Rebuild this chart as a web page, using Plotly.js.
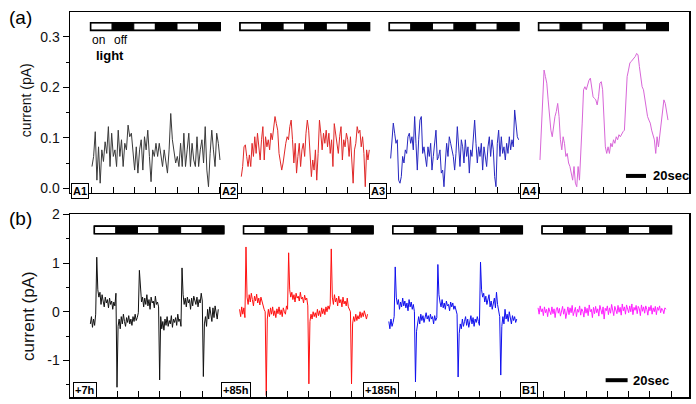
<!DOCTYPE html>
<html>
<head>
<meta charset="utf-8">
<script src="https://cdn.plot.ly/plotly-3.0.1.min.js"></script>
<style>html,body{margin:0;padding:0;background:#fff;}#chart{width:696px;height:404px;}</style>
</head>
<body>
<div id="chart"></div>
<script>
// ---------- DATA ----------
// Panel (a): photocurrent traces (pA), each spanning 120 s
const labelsA = ["A1", "A2", "A3", "A4"];
const startsA = [20, 160, 300, 440];
const a1 = [0.043,0.063,0.112,0.016,0.082,0.010,0.076,0.053,0.092,0.069,0.122,0.043,0.109,0.063,0.076,0.043,0.115,0.063,0.096,0.043,0.089,0.076,0.125,0.102,0.109,0.069,0.036,0.082,0.030,0.076,0.096,0.036,0.102,0.076,0.115,0.063,0.013,0.076,0.063,0.089,0.063,0.089,0.069,0.043,0.076,0.050,0.030,0.076,0.148,0.096,0.069,0.050,0.063,0.043,0.089,0.043,0.109,0.043,0.076,0.109,0.043,0.089,0.056,0.043,0.102,0.043,0.076,0.096,0.050,0.122,0.036,0.003,0.069,0.115,0.076,0.043,0.109,0.089,0.056];
const a2 = [0.023,0.043,0.082,0.086,0.063,0.043,0.066,0.043,0.089,0.063,0.102,0.069,0.109,0.082,0.056,0.096,0.122,0.056,0.102,0.082,0.096,0.076,0.109,0.096,0.122,0.142,0.128,0.115,0.069,0.056,0.036,0.050,0.076,0.089,0.102,0.096,0.122,0.135,0.096,0.050,0.089,0.030,0.063,0.089,0.043,0.076,0.089,0.063,0.109,0.135,0.115,0.063,0.023,0.056,0.036,0.076,0.016,0.069,0.135,0.109,0.076,0.109,0.089,0.115,0.082,0.109,0.069,0.096,0.043,0.128,0.109,0.096,0.069,0.102,0.122,0.056,0.096,0.082,0.109,0.096,0.063,0.102,0.050,0.010,0.076,0.089,0.122,0.109,0.115,0.082,0.102,0.069,0.003,0.076,0.056,0.076];
const a3 = [0.059,0.102,0.129,0.109,0.089,0.096,0.016,0.010,0.023,0.063,0.050,0.076,0.069,0.102,0.109,0.089,0.102,0.076,0.142,0.089,0.036,0.096,0.135,0.142,0.069,0.082,0.063,0.043,0.082,0.063,0.089,0.036,0.063,0.096,0.115,0.056,0.063,0.076,0.030,0.036,0.003,0.050,0.089,0.063,0.102,0.089,0.076,0.063,0.036,0.069,0.122,0.089,0.043,0.096,0.082,0.050,0.096,0.063,0.082,0.030,0.076,0.063,0.102,0.135,0.089,0.050,0.082,0.063,0.089,0.036,0.082,0.063,0.043,0.082,0.102,0.063,0.096,0.076,0.023,0.003,0.089,0.115,0.063,0.102,0.069,0.082,0.056,0.089,0.069,0.102,0.076,0.096,0.082,0.155,0.129,0.102,0.096];
const a4 = [0.056,0.120,0.190,0.234,0.221,0.208,0.175,0.135,0.115,0.102,0.129,0.142,0.152,0.168,0.142,0.096,0.076,0.102,0.089,0.063,0.069,0.050,0.043,0.030,0.016,0.043,0.010,0.003,0.043,0.016,0.063,0.129,0.195,0.201,0.195,0.208,0.214,0.218,0.195,0.181,0.178,0.175,0.165,0.181,0.208,0.211,0.195,0.142,0.082,0.069,0.082,0.069,0.089,0.082,0.096,0.089,0.102,0.096,0.106,0.102,0.109,0.112,0.115,0.175,0.221,0.234,0.248,0.251,0.254,0.257,0.261,0.267,0.264,0.241,0.221,0.201,0.195,0.175,0.162,0.142,0.135,0.129,0.115,0.102,0.096,0.069,0.102,0.082,0.109,0.135,0.155,0.175,0.168,0.152,0.135];

// Panel (b): traces after +7h, +85h, +185h, and B1, each spanning 120 s
const labelsB = ["+7h", "+85h", "+185h", "B1"];
const startsB = [15, 155, 295, 435];
const b1 = [-0.25,-0.10,-0.32,-0.15,-0.28,-0.05,1.12,0.45,0.30,0.40,0.15,0.35,0.22,0.10,0.30,0.18,0.25,0.08,0.28,0.15,0.22,0.05,0.20,0.12,0.38,-1.55,-0.30,-0.15,-0.35,-0.10,-0.25,-0.05,-0.20,-0.30,-0.12,-0.22,-0.08,-0.25,-0.15,-0.28,-0.10,-0.20,-0.05,-0.18,-0.12,-0.02,0.85,0.40,0.20,0.30,0.10,0.28,0.15,0.35,0.12,0.25,0.05,0.30,0.18,0.22,0.08,0.32,0.15,0.20,0.10,-1.40,-0.10,-0.35,-0.20,-0.38,-0.15,-0.28,-0.10,-0.30,-0.18,-0.25,-0.08,-0.32,-0.15,-0.22,-0.12,-0.28,-0.05,-0.20,-0.15,-0.30,0.90,0.35,0.15,0.28,0.10,0.30,0.18,0.25,0.05,0.28,0.12,0.32,0.20,0.15,0.30,0.10,0.25,0.18,0.38,0.22,-1.33,-0.25,-0.10,-0.30,0.05,-0.15,0.10,-0.08,-0.20,0.08,-0.12,0.12,-0.05,-0.15,0.05];
const b2 = [0.05,-0.10,0.10,-0.05,0.08,-0.12,1.33,0.30,0.15,0.35,0.20,0.38,0.25,0.12,0.32,0.22,0.36,0.18,0.28,0.14,0.30,0.20,0.10,0.05,0.00,-1.72,-0.15,0.05,-0.10,0.08,-0.05,0.10,-0.08,0.02,-0.12,0.06,-0.04,0.10,-0.06,0.04,-0.10,0.08,0.00,-0.05,0.12,0.05,1.21,0.45,0.30,0.40,0.25,0.35,0.20,0.38,0.28,0.32,0.22,0.40,0.26,0.30,0.18,0.34,0.24,0.28,0.12,-1.48,-0.20,-0.05,-0.15,0.00,-0.10,-0.02,-0.12,0.05,-0.08,0.02,-0.10,0.08,-0.04,0.06,-0.06,0.10,0.00,0.12,0.05,0.15,1.29,0.30,0.15,0.35,0.20,0.28,0.12,0.32,0.18,0.25,0.10,0.30,0.16,0.22,0.12,0.28,0.10,0.05,0.00,-1.48,-0.25,-0.10,-0.20,-0.05,-0.18,-0.08,-0.15,0.00,-0.12,-0.02,-0.10,0.02,-0.08,-0.15,-0.05];
const b3 = [-0.20,-0.35,-0.15,-0.30,-0.22,-0.10,0.92,0.30,0.15,0.25,0.05,0.20,0.10,0.28,0.12,0.22,0.08,0.18,0.02,0.25,0.10,0.20,0.05,0.15,0.00,-1.44,-0.40,-0.20,-0.10,-0.25,-0.05,-0.18,-0.08,-0.22,-0.12,-0.02,-0.15,-0.08,-0.20,-0.05,-0.15,-0.10,-0.25,-0.08,-0.18,-0.12,0.97,0.35,0.20,0.10,0.25,0.08,0.18,0.05,0.22,0.12,0.15,0.02,0.20,0.10,0.18,0.05,0.12,0.00,-0.05,-1.34,-0.45,-0.25,-0.35,-0.15,-0.30,-0.20,-0.10,-0.28,-0.15,-0.32,-0.18,-0.08,-0.25,-0.12,-0.30,-0.15,-0.22,-0.10,-0.20,-0.28,1.02,0.45,0.30,0.38,0.20,0.32,0.15,0.25,0.35,0.10,0.22,0.05,0.18,0.28,0.08,0.40,0.15,0.05,-0.10,-1.30,-0.30,-0.10,-0.25,0.05,-0.15,-0.05,-0.20,0.00,-0.12,-0.25,-0.08,-0.18,-0.10,-0.22,-0.15];
const b4 = [0.08,-0.05,0.12,0.00,0.06,-0.08,0.10,-0.02,0.05,-0.10,0.08,0.02,-0.06,0.10,-0.04,0.06,-0.12,0.04,0.09,-0.03,0.07,-0.09,0.03,0.11,-0.05,0.06,-0.14,0.02,0.10,-0.06,0.08,-0.02,0.13,-0.08,0.04,0.09,-0.10,0.05,-0.01,0.12,-0.07,0.06,0.01,-0.11,0.10,-0.03,0.07,-0.08,0.14,0.00,0.05,-0.12,0.09,-0.04,0.11,-0.02,0.06,-0.09,0.13,0.03,-0.05,0.10,-0.15,0.07,0.02,0.12,-0.06,0.08,-0.03,0.15,0.01,-0.08,0.11,0.04,-0.04,0.13,-0.01,0.09,-0.07,0.16,0.02,0.10,-0.05,0.14,0.05,-0.02,0.12,0.00,0.16,-0.06,0.09,0.03,0.13,-0.04,0.11,0.06,-0.08,0.14,0.01,0.10,-0.03,0.12,0.05,-0.07,0.10,0.02,0.13,-0.05,0.08,0.00,0.11,-0.06,0.09,0.03,0.12,-0.02,0.07,0.04,-0.04,0.08,0.05];

const traceDuration = 120;          // seconds per recording
const lightStarts = [18.7, 158.7, 298.7, 438.7];  // start of light on/off sequence (s)
const lightPeriod = 20.25;          // each on/off half-cycle (s)
const yTicksA = [0, 0.1, 0.2, 0.3];
const yTickTextA = ["0.0", "0.1", "0.2", "0.3"];
const yTicksB = [-1, 0, 1, 2];
const yTickTextB = ["-1", "0", "1", "2"];

// ---------- STYLE ----------
const colorsA = ["#3a3a3a", "#e02828", "#2828c0", "#d866d8"];
const colorsB = ["#111111", "#ff1010", "#1010ee", "#ff20ff"];
const FONT = "Liberation Sans, Arial, sans-serif";

function xs(start, n) {
  const out = [];
  for (let i = 0; i < n; i++) out.push(start + i * traceDuration / (n - 1));
  return out;
}

const dataA = [a1, a2, a3, a4];
const dataB = [b1, b2, b3, b4];
const traces = [];
dataA.forEach((v, k) => traces.push({
  x: xs(startsA[k], v.length), y: v, type: "scatter", mode: "lines",
  line: {color: colorsA[k], width: 1}, xaxis: "x", yaxis: "y", hoverinfo: "skip", name: labelsA[k]
}));
dataB.forEach((v, k) => traces.push({
  x: xs(startsB[k], v.length), y: v, type: "scatter", mode: "lines",
  line: {color: colorsB[k], width: 1}, xaxis: "x2", yaxis: "y2", hoverinfo: "skip", name: labelsB[k]
}));

// light bars
const shapes = [];
function addBars(xref, yref, y0, y1) {
  lightStarts.forEach(s => {
    for (let j = 0; j < 6; j++) {
      shapes.push({type: "rect", xref, yref, x0: s + j * lightPeriod, x1: s + (j + 1) * lightPeriod,
        y0, y1, fillcolor: j % 2 ? "#000" : "#fff", line: {color: "#000", width: 1}});
    }
    shapes.push({type: "rect", xref, yref, x0: s, x1: s + 6 * lightPeriod, y0, y1,
      fillcolor: "rgba(0,0,0,0)", line: {color: "#000", width: 1.6}});
  });
}
addBars("x", "y", 0.3127, 0.3277);
addBars("x2", "y2", 1.602, 1.758);
// scale bars (20 s)
shapes.push({type: "line", xref: "x", yref: "y", x0: 520.6, x1: 539.4, y0: 0.0244, y1: 0.0244, line: {color: "#000", width: 4}});
shapes.push({type: "line", xref: "x2", yref: "y2", x0: 498.4, x1: 519, y0: -1.405, y1: -1.405, line: {color: "#000", width: 4}});

const annotations = [];
const boxXA = [0, 140, 280, 421];
const boxXB = [-1.6, 137.5, 270.7, 418];
labelsA.forEach((t, k) => annotations.push({
  text: "<b>" + t + "</b>", xref: "x", yref: "paper", x: boxXA[k], y: 0.535, xanchor: "left", yanchor: "middle",
  showarrow: false, font: {family: FONT, size: 11, color: "#000"}, bgcolor: "#fff",
  bordercolor: "#000", borderwidth: 1, borderpad: 1
}));
labelsB.forEach((t, k) => annotations.push({
  text: "<b>" + t + "</b>", xref: "x2", yref: "paper", x: boxXB[k], y: 0.018, xanchor: "left", yanchor: "middle",
  showarrow: false, font: {family: FONT, size: 11, color: "#000"}, bgcolor: "#fff",
  bordercolor: "#000", borderwidth: 1, borderpad: 1
}));
annotations.push({text: "on", xref: "x", yref: "y", x: 26.5, y: 0.2935, showarrow: false, font: {family: FONT, size: 12, color: "#000"}});
annotations.push({text: "off", xref: "x", yref: "y", x: 47.6, y: 0.2935, showarrow: false, font: {family: FONT, size: 12, color: "#000"}});
annotations.push({text: "<b>light</b>", xref: "x", yref: "y", x: 36.8, y: 0.2638, showarrow: false, font: {family: FONT, size: 13, color: "#000"}});
annotations.push({text: "<b>20sec</b>", xref: "x", yref: "y", x: 544, y: 0.0244, xanchor: "left", showarrow: false, font: {family: FONT, size: 13, color: "#000"}});
annotations.push({text: "<b>20sec</b>", xref: "x2", yref: "y2", x: 522.5, y: -1.405, xanchor: "left", showarrow: false, font: {family: FONT, size: 13, color: "#000"}});
annotations.push({text: "(a)", xref: "paper", yref: "paper", x: -0.102, y: 0.987, xanchor: "left", yanchor: "middle", showarrow: false, font: {family: FONT, size: 19, color: "#000"}});
annotations.push({text: "(b)", xref: "paper", yref: "paper", x: -0.102, y: 0.463, xanchor: "left", yanchor: "middle", showarrow: false, font: {family: FONT, size: 19, color: "#000"}});
// y-axis titles
annotations.push({text: "current (pA)", xref: "paper", yref: "paper", x: -0.0711, y: 0.771, xanchor: "center", yanchor: "middle", textangle: -90, showarrow: false, font: {family: FONT, size: 14, color: "#111"}});
annotations.push({text: "current (pA)", xref: "paper", yref: "paper", x: -0.068, y: 0.210, xanchor: "center", yanchor: "middle", textangle: -90, showarrow: false, font: {family: FONT, size: 17, color: "#111"}});

const xCommon = {
  showgrid: false, zeroline: false, showline: true, mirror: true, linecolor: "#000", linewidth: 1.5,
  ticks: "inside", ticklen: 6, tickwidth: 1, tickcolor: "#000", tickmode: "linear", tick0: 0, dtick: 20,
  showticklabels: false, domain: [0, 1]
};
const yCommon = {
  showgrid: false, zeroline: false, showline: true, mirror: true, linecolor: "#000", linewidth: 1.5,
  ticks: "outside", ticklen: 6, tickwidth: 1, tickcolor: "#000", tickmode: "array",
  tickfont: {family: FONT, size: 14, color: "#111"}
};

const layout = {
  width: 696, height: 404,
  margin: {l: 70, r: 7, t: 12, b: 7},
  paper_bgcolor: "#fff", plot_bgcolor: "#fff",
  showlegend: false,
  font: {family: FONT},
  xaxis: Object.assign({}, xCommon, {anchor: "y", range: [-0.6, 579.7]}),
  yaxis: Object.assign({}, yCommon, {
    anchor: "x", domain: [0.53, 1], range: [-0.0093, 0.349],
    tickvals: yTicksA, ticktext: yTickTextA,
    minor: {tickmode: "linear", tick0: 0, dtick: 0.05, ticks: "outside", ticklen: 3, tickcolor: "#000"}
  }),
  xaxis2: Object.assign({}, xCommon, {anchor: "y2", range: [-4.1, 576.6]}),
  yaxis2: Object.assign({}, yCommon, {
    anchor: "x2", domain: [0, 0.4745], range: [-1.75, 2],
    tickvals: yTicksB, ticktext: yTickTextB,
    minor: {tickmode: "linear", tick0: 0, dtick: 0.5, ticks: "outside", ticklen: 3, tickcolor: "#000"}
  }),
  shapes, annotations
};

Plotly.newPlot("chart", traces, layout, {staticPlot: true, displayModeBar: false});
</script>
</body>
</html>
